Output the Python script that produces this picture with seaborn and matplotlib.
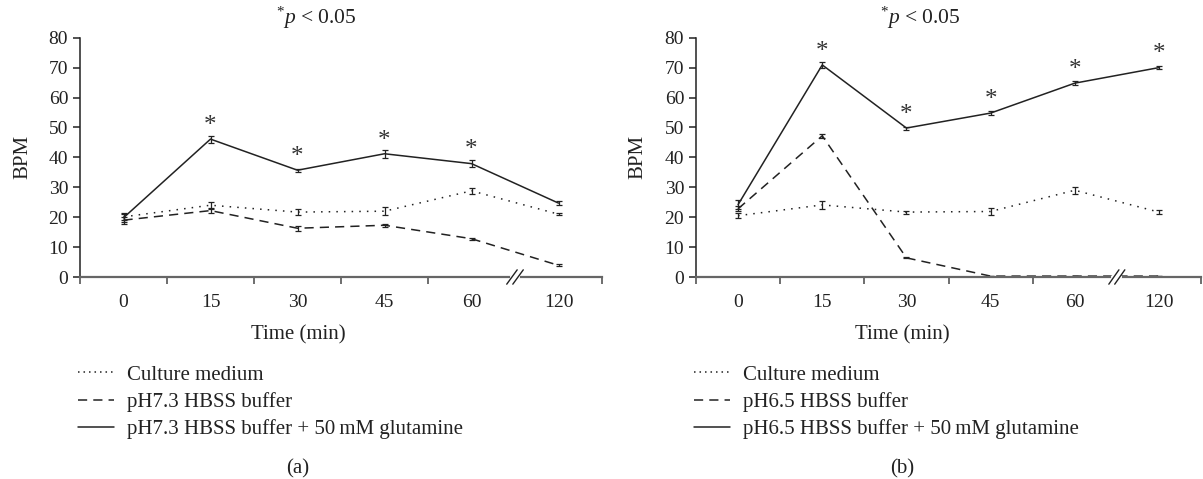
import seaborn as sns
import matplotlib.pyplot as plt
import pandas as pd

# time points (categorical axis, break between 60 and 120)
times = ["0", "15", "30", "45", "60", "120"]

# panel (a) pH 7.3
a_culture = [20.1, 24.0, 21.7, 22.0, 28.8, 21.0]
a_culture_err = [1.0, 1.2, 1.0, 1.3, 1.0, 0.3]
a_buffer = [19.0, 22.2, 16.3, 17.3, 12.8, 3.9]
a_buffer_err = [1.2, 0.8, 0.9, 0.5, 0.4, 0.3]
a_gln = [19.8, 46.1, 35.7, 41.2, 37.9, 24.7]
a_gln_err = [1.5, 1.2, 0.5, 1.3, 1.2, 0.6]
a_star = [False, True, True, True, True, False]

# panel (b) pH 6.5
b_culture = [20.5, 24.1, 21.7, 21.9, 29.0, 21.7]
b_culture_err = [0.8, 1.2, 0.5, 1.2, 1.2, 0.6]
b_buffer = [22.8, 47.2, 6.4, 0.3, 0.3, 0.3]
b_buffer_err = [0.8, 0.7, 0.2, 0.1, 0.1, 0.1]
b_gln = [24.2, 70.9, 49.8, 54.8, 64.8, 70.0]
b_gln_err = [1.5, 0.9, 0.5, 0.6, 0.7, 0.4]
b_star = [False, True, True, True, True, True]

sns.set_style("ticks")
plt.rcParams["font.family"] = ["Liberation Serif", "DejaVu Serif"]
plt.rcParams["mathtext.fontset"] = "custom"
plt.rcParams["mathtext.rm"] = "Liberation Serif"
plt.rcParams["mathtext.it"] = "Liberation Serif:italic"

ink = "#222222"
fig = plt.figure(figsize=(12.03, 4.79), dpi=100)
ax_a = fig.add_axes([80 / 1203, 1 - 277 / 479, 522 / 1203, 239.3 / 479])
ax_b = fig.add_axes([696 / 1203, 1 - 277 / 479, 505 / 1203, 239.3 / 479])


def panel(ax, ph, culture, culture_err, buffer, buffer_err, gln, gln_err, stars):
    labels = ["Culture medium", f"pH{ph} HBSS buffer",
              f"pH{ph} HBSS buffer + 50\u2009mM glutamine"]
    df = pd.DataFrame({
        "pos": list(range(len(times))) * 3,
        "bpm": culture + buffer + gln,
        "group": [labels[0]] * 6 + [labels[1]] * 6 + [labels[2]] * 6,
    })
    sns.lineplot(data=df, x="pos", y="bpm", style="group", style_order=labels,
                 dashes=[(1, 4), (6, 4), ""], color=ink, linewidth=1.1,
                 errorbar=None, ax=ax)
    for vals, errs in [(culture, culture_err), (buffer, buffer_err), (gln, gln_err)]:
        ax.errorbar(range(len(times)), vals, yerr=errs, fmt="none", ecolor=ink,
                    elinewidth=0.9, capsize=2.2, capthick=0.9)
    for i, (v, s) in enumerate(zip(gln, stars)):
        if s:
            ax.text(i, v + 4.4, "*", ha="center", va="center", fontsize=18, color="#333333")

    handles, lbls = ax.get_legend_handles_labels()
    ax.get_legend().remove()
    handles[0].set_dashes((1, 2.6))

    ax.set_xlim(-0.5, 5.5)
    ax.set_ylim(0, 80)
    ax.set_yticks(range(0, 81, 10))
    ax.set_xticks(range(len(times)))
    ax.set_xticklabels(times)
    ax.set_xticks([-0.5, 0.5, 1.5, 2.5, 3.5, 5.5], minor=True)
    ax.tick_params(axis="x", which="major", length=0, pad=12, labelsize=14, colors=ink)
    ax.tick_params(axis="x", which="minor", length=5, width=1.2, color="#555555")
    ax.tick_params(axis="y", length=5, width=1.1, labelsize=14, colors=ink)
    ax.set_xlabel("")
    ax.set_ylabel("")
    sns.despine(ax=ax)
    ax.spines["left"].set_color(ink)
    ax.spines["left"].set_linewidth(1.1)
    ax.spines["bottom"].set_color("#666666")
    ax.spines["bottom"].set_linewidth(1.6)

    # axis break mark between 60 and 120
    tr = ax.get_xaxis_transform()
    ax.plot([4.46, 4.54], [0, 0], transform=tr, color="white", lw=3, clip_on=False, zorder=5)
    for dx in (-0.035, 0.035):
        ax.plot([4.5 + dx - 0.06, 4.5 + dx + 0.06], [-0.03, 0.03], transform=tr,
                color=ink, lw=1.0, clip_on=False, zorder=6)
    return handles, lbls


panels = [
    (ax_a, "7.3", a_culture, a_culture_err, a_buffer, a_buffer_err, a_gln, a_gln_err, a_star, 0),
    (ax_b, "6.5", b_culture, b_culture_err, b_buffer, b_buffer_err, b_gln, b_gln_err, b_star, 1),
]
for ax, ph, c, ce, bu, be, g, ge, st, k in panels:
    h, l = panel(ax, ph, c, ce, bu, be, g, ge, st)
    x0 = [78, 694][k]
    cx = [298, 902][k]
    fig.text([316, 920][k] / 1203, 1 - 18 / 479, r"$^{*}p$ < 0.05", ha="center", va="center",
             fontsize=15.5, color=ink)
    fig.text([23, 638][k] / 1203, 1 - 157 / 479, "BPM", rotation=90, ha="center", va="center",
             fontsize=15, color=ink)
    fig.text(cx / 1203, 1 - 335 / 479, "Time (min)", ha="center", va="center",
             fontsize=15, color=ink)
    fig.text(cx / 1203, 1 - 469 / 479, "(a)" if k == 0 else "(b)", ha="center", va="center",
             fontsize=15, color=ink)
    fig.legend(h, l, loc="upper left", bbox_to_anchor=(x0 / 1203, 1 - 365 / 479),
               frameon=False, fontsize=15, handlelength=1.75, handletextpad=0.6,
               labelspacing=0.36, borderpad=0, borderaxespad=0, labelcolor=ink)

fig.savefig("out.png", dpi=100)
